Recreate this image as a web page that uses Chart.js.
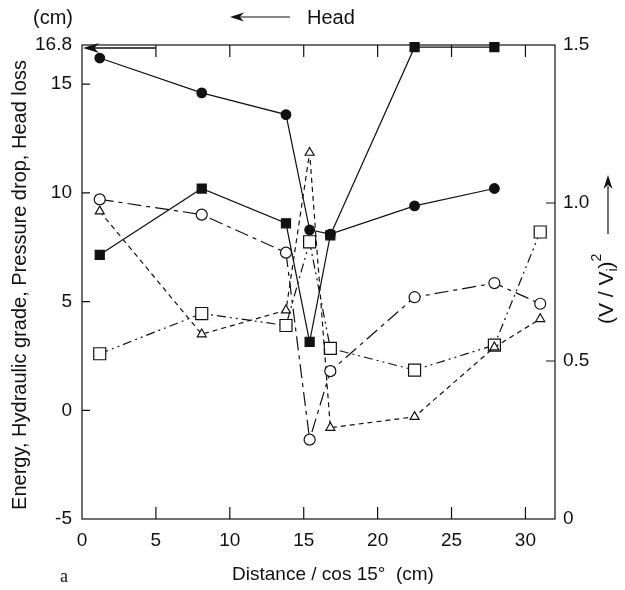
<!DOCTYPE html>
<html>
<head>
<meta charset="utf-8">
<script src="https://cdn.jsdelivr.net/npm/chart.js@4"></script>
<style>
  html, body { margin: 0; padding: 0; background: #fff; }
  #wrap { width: 625px; height: 590px; }
</style>
</head>
<body>
<div id="wrap"><canvas id="chart" width="625" height="590"></canvas></div>
<script>
// stations along the channel (distance / cos 15°, cm)
const distance = [1.2, 8.1, 13.8, 15.4, 16.8, 22.5, 27.9, 31.0];

// left axis values (cm)
const filledCircle = [16.2, 14.6, 13.6, 8.3, 8.1, 9.4, 10.2];
const filledSquare = [7.15, 10.2, 8.6, 3.15, 8.05, 16.7, 16.7];
const openCircle = [9.7, 9.0, 7.25, -1.35, 1.8, 5.2, 5.85, 4.9];
const openTriangle = [9.15, 3.5, 4.6, 11.85, -0.8, -0.3, 2.9, 4.2];
const openSquare = [2.6, 4.45, 3.9, 7.75, 2.85, 1.85, 3.0, 8.2];

const xTicks = [0, 5, 10, 15, 20, 25, 30];
const yTicks = [-5, 0, 5, 10, 15, 16.8];
const y2Ticks = [0, 0.5, 1.0, 1.5];

const FONT = "'Liberation Sans', Arial, Helvetica, sans-serif";
const INK = '#111';

function pts(ys) {
  return ys.map((y, i) => ({ x: distance[i], y: y }));
}

function series(ys, style, radius, filled, dash) {
  return {
    data: pts(ys),
    showLine: true,
    clip: false,
    borderColor: INK,
    borderWidth: 1.2,
    borderDash: dash,
    pointStyle: style,
    pointRadius: radius,
    pointBorderColor: INK,
    pointBorderWidth: 1.2,
    pointBackgroundColor: filled ? INK : '#fff',
    tension: 0
  };
}

function arrowHead(ctx, x, y, dx, dy, len, half) {
  // tip at (x, y), pointing in direction (dx, dy)
  const px = -dy, py = dx;
  ctx.beginPath();
  ctx.moveTo(x, y);
  ctx.lineTo(x - dx * len + px * half, y - dy * len + py * half);
  ctx.lineTo(x - dx * len * 0.7, y - dy * len * 0.7);
  ctx.lineTo(x - dx * len - px * half, y - dy * len - py * half);
  ctx.closePath();
  ctx.fill();
}

const decorations = {
  id: 'decorations',
  afterDraw(chart) {
    const ctx = chart.ctx;
    const a = chart.chartArea;
    const xs = chart.scales.x, ys = chart.scales.y, y2 = chart.scales.y2;
    ctx.save();
    ctx.strokeStyle = INK;
    ctx.fillStyle = INK;
    ctx.lineWidth = 1.2;

    // frame
    ctx.strokeRect(a.left, a.top, a.right - a.left, a.bottom - a.top);

    // inward tick marks
    ctx.beginPath();
    xTicks.slice(1).forEach(v => {
      const px = xs.getPixelForValue(v);
      ctx.moveTo(px, a.bottom); ctx.lineTo(px, a.bottom - 12);
      ctx.moveTo(px, a.top); ctx.lineTo(px, a.top + 12);
    });
    [0, 5, 10, 15].forEach(v => {
      const py = ys.getPixelForValue(v);
      ctx.moveTo(a.left, py); ctx.lineTo(a.left + 8, py);
    });
    [0.5, 1.0].forEach(v => {
      const py = y2.getPixelForValue(v);
      ctx.moveTo(a.right, py); ctx.lineTo(a.right - 9, py);
    });
    ctx.stroke();

    // head marker along the top edge
    const hy = ys.getPixelForValue(16.8) + 3;
    const h0 = xs.getPixelForValue(0) + 1, h1 = xs.getPixelForValue(5);
    ctx.lineWidth = 1.5;
    ctx.beginPath();
    ctx.moveTo(h1, hy); ctx.lineTo(h0 + 10, hy);
    ctx.stroke();
    arrowHead(ctx, h0, hy, -1, 0, 16, 5);
    ctx.lineWidth = 1.2;

    // captions
    ctx.font = '20px ' + FONT;
    ctx.textBaseline = 'middle';
    ctx.textAlign = 'left';
    ctx.fillText('(cm)', 33, 18);
    ctx.fillText('Head', 307, 18);
    ctx.beginPath();
    ctx.moveTo(290, 17); ctx.lineTo(240, 17);
    ctx.stroke();
    arrowHead(ctx, 230, 17, -1, 0, 14, 4.5);

    ctx.textAlign = 'center';
    ctx.font = '19px ' + FONT;
    ctx.fillText('Distance / cos 15\u00b0  (cm)', 333, 575);
    ctx.font = '18px "Liberation Serif", "Times New Roman", serif';
    ctx.fillText('a', 64, 577);

    // left axis title
    ctx.save();
    ctx.translate(20, 285);
    ctx.rotate(-Math.PI / 2);
    ctx.font = '20px ' + FONT;
    ctx.textAlign = 'center';
    ctx.fillText('Energy, Hydraulic grade, Pressure drop, Head loss', 0, 0);
    ctx.restore();

    // right axis title (V / V_i)^2 with upward arrow
    ctx.save();
    ctx.translate(607, 324);
    ctx.rotate(-Math.PI / 2);
    ctx.textAlign = 'left';
    let cx = 0;
    const part = (t, f, dy) => {
      ctx.font = f;
      ctx.fillText(t, cx, dy);
      cx += ctx.measureText(t).width;
    };
    part('(V / V', '21px ' + FONT, 0);
    part('i', '14px ' + FONT, 6);
    part(')', '21px ' + FONT, 0);
    part('2', '14px ' + FONT, -10);
    ctx.restore();
    ctx.beginPath();
    ctx.moveTo(608, 234); ctx.lineTo(608, 186);
    ctx.stroke();
    arrowHead(ctx, 608, 175, 0, -1, 14, 4.5);

    ctx.restore();
  }
};

const tickFont = { family: FONT, size: 19 };

new Chart(document.getElementById('chart').getContext('2d'), {
  type: 'scatter',
  data: {
    datasets: [
      series(filledCircle, 'circle', 4.8, true, []),
      series(filledSquare, 'rect', 6.4, true, []),
      series(openCircle, 'circle', 5.5, false, [14, 5, 4, 5]),
      series(openTriangle, 'triangle', 5.2, false, [5, 4]),
      series(openSquare, 'rect', 8.5, false, [9, 4, 2, 4, 2, 4])
    ]
  },
  options: {
    responsive: false,
    animation: false,
    layout: { padding: { top: 45, left: 0, right: 0, bottom: 0 } },
    plugins: { legend: { display: false }, tooltip: { enabled: false } },
    scales: {
      x: {
        type: 'linear', min: 0, max: 32,
        afterBuildTicks: s => { s.ticks = xTicks.map(v => ({ value: v })); },
        afterFit: s => { s.height = 71; },
        grid: { display: false, drawTicks: false },
        border: { display: false },
        ticks: { font: tickFont, color: INK, padding: 10, maxRotation: 0 }
      },
      y: {
        type: 'linear', min: -5, max: 16.8,
        afterBuildTicks: s => { s.ticks = yTicks.map(v => ({ value: v })); },
        afterFit: s => { s.width = 82; },
        grid: { display: false, drawTicks: false },
        border: { display: false },
        ticks: {
          font: tickFont, color: INK, padding: 10,
          callback: v => (v === 16.8 ? '16.8' : String(v))
        }
      },
      y2: {
        type: 'linear', position: 'right', min: 0, max: 1.5,
        afterBuildTicks: s => { s.ticks = y2Ticks.map(v => ({ value: v })); },
        afterFit: s => { s.width = 70; },
        grid: { display: false, drawTicks: false },
        border: { display: false },
        ticks: {
          font: tickFont, color: INK, padding: 8,
          callback: v => (v === 0 ? '0' : v.toFixed(1))
        }
      }
    }
  },
  plugins: [decorations]
});
</script>
</body>
</html>
